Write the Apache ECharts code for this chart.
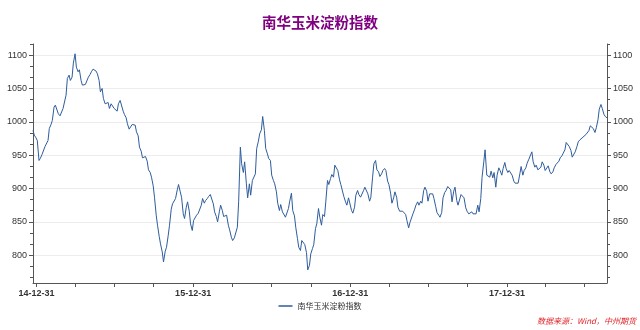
<!DOCTYPE html>
<html><head><meta charset="utf-8">
<script src="https://cdn.jsdelivr.net/npm/echarts@6/dist/echarts.min.js"></script>
<style>html,body{margin:0;padding:0;background:#fff}#c{width:640px;height:330px}</style>
</head><body><div id="c"></div>
<script>
const chartTitle = '南华玉米淀粉指数';
const seriesName = '南华玉米淀粉指数';
const sourceText = '数据来源：Wind，中州期货';

const dates = [
'2014-12-23','2014-12-26','2014-12-30',
'2015-01-02','2015-01-06','2015-01-09','2015-01-13','2015-01-16','2015-01-20','2015-01-23','2015-01-27','2015-01-30',
'2015-02-03','2015-02-06','2015-02-10','2015-02-13','2015-02-17','2015-02-20','2015-02-24','2015-02-27',
'2015-03-03','2015-03-06','2015-03-10','2015-03-13','2015-03-17','2015-03-20','2015-03-24','2015-03-27','2015-03-31',
'2015-04-03','2015-04-07','2015-04-10','2015-04-14','2015-04-17','2015-04-21','2015-04-24','2015-04-28',
'2015-05-01','2015-05-05','2015-05-08','2015-05-12','2015-05-15','2015-05-19','2015-05-22','2015-05-26','2015-05-29',
'2015-06-02','2015-06-05','2015-06-09','2015-06-12','2015-06-16','2015-06-19','2015-06-23','2015-06-26','2015-06-30',
'2015-07-03','2015-07-07','2015-07-10','2015-07-14','2015-07-17','2015-07-21','2015-07-24','2015-07-28','2015-07-31',
'2015-08-04','2015-08-07','2015-08-11','2015-08-14','2015-08-18','2015-08-21','2015-08-25','2015-08-28',
'2015-09-01','2015-09-04','2015-09-08','2015-09-11','2015-09-15','2015-09-18','2015-09-22','2015-09-25','2015-09-29',
'2015-10-02','2015-10-06','2015-10-09','2015-10-13','2015-10-16','2015-10-20','2015-10-23','2015-10-27','2015-10-30',
'2015-11-03','2015-11-06','2015-11-10','2015-11-13','2015-11-17','2015-11-20','2015-11-24','2015-11-27',
'2015-12-01','2015-12-04','2015-12-08','2015-12-11','2015-12-15','2015-12-18','2015-12-22','2015-12-25','2015-12-29',
'2016-01-01','2016-01-05','2016-01-08','2016-01-12','2016-01-15','2016-01-19','2016-01-22','2016-01-26','2016-01-29',
'2016-02-02','2016-02-05','2016-02-09','2016-02-12','2016-02-16','2016-02-19','2016-02-23','2016-02-26',
'2016-03-01','2016-03-04','2016-03-08','2016-03-11','2016-03-15','2016-03-18','2016-03-22','2016-03-25','2016-03-29',
'2016-04-01','2016-04-05','2016-04-08','2016-04-12','2016-04-15','2016-04-19','2016-04-22','2016-04-26','2016-04-29',
'2016-05-03','2016-05-06','2016-05-10','2016-05-13','2016-05-17','2016-05-20','2016-05-24','2016-05-27','2016-05-31',
'2016-06-03','2016-06-07','2016-06-10','2016-06-14','2016-06-17','2016-06-21','2016-06-24','2016-06-28',
'2016-07-01','2016-07-05','2016-07-08','2016-07-12','2016-07-15','2016-07-19','2016-07-22','2016-07-26','2016-07-29',
'2016-08-02','2016-08-05','2016-08-09','2016-08-12','2016-08-16','2016-08-19','2016-08-23','2016-08-26','2016-08-30',
'2016-09-02','2016-09-06','2016-09-09','2016-09-13','2016-09-16','2016-09-20','2016-09-23','2016-09-27','2016-09-30',
'2016-10-04','2016-10-07','2016-10-11','2016-10-14','2016-10-18','2016-10-21','2016-10-25','2016-10-28',
'2016-11-01','2016-11-04','2016-11-08','2016-11-11','2016-11-15','2016-11-18','2016-11-22','2016-11-25','2016-11-29',
'2016-12-02','2016-12-06','2016-12-09','2016-12-13','2016-12-16','2016-12-20','2016-12-23','2016-12-27','2016-12-30',
'2017-01-03','2017-01-06','2017-01-10','2017-01-13','2017-01-17','2017-01-20','2017-01-24','2017-01-27','2017-01-31',
'2017-02-03','2017-02-07','2017-02-10','2017-02-14','2017-02-17','2017-02-21','2017-02-24','2017-02-28',
'2017-03-03','2017-03-07','2017-03-10','2017-03-14','2017-03-17','2017-03-21','2017-03-24','2017-03-28','2017-03-31',
'2017-04-04','2017-04-07','2017-04-11','2017-04-14','2017-04-18','2017-04-21','2017-04-25','2017-04-28',
'2017-05-02','2017-05-05','2017-05-09','2017-05-12','2017-05-16','2017-05-19','2017-05-23','2017-05-26','2017-05-30',
'2017-06-02','2017-06-06','2017-06-09','2017-06-13','2017-06-16','2017-06-20','2017-06-23','2017-06-27','2017-06-30',
'2017-07-04','2017-07-07','2017-07-11','2017-07-14','2017-07-18','2017-07-21','2017-07-25','2017-07-28',
'2017-08-01','2017-08-04','2017-08-08','2017-08-11','2017-08-15','2017-08-18','2017-08-22','2017-08-25','2017-08-29',
'2017-09-01','2017-09-05','2017-09-08','2017-09-12','2017-09-15','2017-09-19','2017-09-22','2017-09-26','2017-09-29',
'2017-10-03','2017-10-06','2017-10-10','2017-10-13','2017-10-17','2017-10-20','2017-10-24','2017-10-27','2017-10-31',
'2017-11-03','2017-11-07','2017-11-10','2017-11-14','2017-11-17','2017-11-21','2017-11-24','2017-11-28',
'2017-12-01','2017-12-05','2017-12-08','2017-12-12','2017-12-15','2017-12-19','2017-12-22','2017-12-26','2017-12-29',
'2018-01-02','2018-01-05','2018-01-09','2018-01-12','2018-01-16','2018-01-19','2018-01-23','2018-01-26','2018-01-30',
'2018-02-02','2018-02-06','2018-02-09','2018-02-13','2018-02-16','2018-02-20','2018-02-23','2018-02-27',
'2018-03-02','2018-03-06','2018-03-09','2018-03-13','2018-03-16','2018-03-20','2018-03-23','2018-03-27','2018-03-30',
'2018-04-03','2018-04-06','2018-04-10','2018-04-13','2018-04-17','2018-04-20','2018-04-24','2018-04-27',
'2018-05-01','2018-05-04','2018-05-08','2018-05-11','2018-05-15','2018-05-18','2018-05-22','2018-05-25','2018-05-29',
'2018-06-01','2018-06-05','2018-06-08','2018-06-12','2018-06-15','2018-06-19','2018-06-22','2018-06-26','2018-06-29',
'2018-07-03','2018-07-06','2018-07-10','2018-07-13','2018-07-17','2018-07-20','2018-07-24','2018-07-27','2018-07-31',
'2018-08-03','2018-08-07','2018-08-10','2018-08-14','2018-08-17','2018-08-21'
];

const values = [
987,980,976,
972,942,945,951,952,963,965,972,990,
996,1002,1022,1025,1025,1012,1009,1010,
1020,1022,1040,1065,1070,1062,1067,1088,1102,
1082,1075,1078,1062,1055,1057,1056,1055,
1067,1071,1075,1079,1078,1076,1072,1062,1045,
1050,1035,1027,1028,1029,1020,1027,1026,1020,
1021,1016,1027,1032,1030,1016,1011,1006,997,
989,987,996,998,995,985,979,962,
956,946,947,948,941,928,924,917,904,
887,860,845,828,817,805,790,806,812,
830,845,869,877,875,885,898,906,
895,887,862,855,872,880,866,847,837,
852,851,860,863,865,875,885,878,882,
885,888,891,893,877,865,858,850,
865,875,867,858,860,860,845,838,827,
822,826,825,842,880,962,937,924,940,
907,886,907,890,912,912,922,960,971,
982,988,1008,987,960,952,945,942,
920,912,907,895,878,867,876,865,866,
857,857,870,881,893,867,859,842,825,
812,807,822,820,816,804,778,785,802,
810,816,840,847,870,857,845,861,
858,880,912,906,915,921,917,935,937,
927,913,906,907,888,880,875,886,885,
867,863,872,890,897,891,887,885,897,
902,901,892,881,887,917,937,942,
928,925,918,922,927,930,927,911,906,
893,878,886,895,887,872,866,867,
866,868,861,852,841,849,850,862,869,
875,880,875,881,878,897,902,896,881,
892,893,892,885,873,864,860,857,
864,886,894,897,903,902,898,880,896,
902,882,875,873,891,891,886,871,866,
862,862,865,862,864,862,875,865,885,
917,940,958,920,920,917,926,916,
924,902,920,931,927,920,930,939,930,
924,927,927,920,911,908,910,908,922,
933,920,927,931,938,944,945,955,
940,932,935,928,926,932,940,935,927,
929,934,925,922,925,931,936,937,
941,946,949,953,958,969,968,963,957,
947,947,955,963,970,973,975,977,977,
981,982,987,994,995,990,984,991,1003,
1019,1026,1020,1011,1008,1006
];

const xMin = '2014-12-23';
const xMax = '2018-08-21';
const xTickDates = ['2014-12-31','2015-03-31','2015-06-30','2015-09-30','2015-12-31','2016-03-31','2016-06-30','2016-09-30','2016-12-31','2017-03-31','2017-06-30','2017-09-30','2017-12-31','2018-03-31','2018-06-30'];
const xLabelDates = ['2014-12-31','2015-12-31','2016-12-31','2017-12-31'];
const yMin = 758.33, yMax = 1116.67;
const yLabelValues = [800,850,900,950,1000,1050,1100];
const yMinorTicks = [766.67,783.33,816.67,833.33,866.67,883.33,916.67,933.33,966.67,983.33,1016.67,1033.33,1066.67,1083.33,1116.67];

function ts(s){const p=s.split('-').map(Number);return Date.UTC(p[0],p[1]-1,p[2]);}
function fmt(v){const d=new Date(v);const y=String(d.getUTCFullYear()).slice(2);const m=String(d.getUTCMonth()+1).padStart(2,'0');const dd=String(d.getUTCDate()).padStart(2,'0');return y+'-'+m+'-'+dd;}

const axisColor = '#555';
const labelStyle = {fontSize:9, color:'#333', fontFamily:'Liberation Sans, Arial, sans-serif'};

function yAxisMajor(pos, split){
  return {type:'value', position:pos, min:yMin, max:yMax,
    axisLine:{show:true, lineStyle:{color:axisColor, width:1}},
    axisTick:{show:true, customValues:yLabelValues, length:4, lineStyle:{color:axisColor}},
    axisLabel:Object.assign({show:true, customValues:yLabelValues, margin:6, formatter:v=>String(Math.round(v))}, labelStyle),
    splitLine:{show:split, lineStyle:{color:'#ececec', width:1}}};
}
function yAxisMinor(pos){
  return {type:'value', position:pos, min:yMin, max:yMax,
    axisLine:{show:false},
    axisTick:{show:true, customValues:yMinorTicks, length:3, lineStyle:{color:axisColor}},
    axisLabel:{show:false}, splitLine:{show:false}};
}

const chart = echarts.init(document.getElementById('c'), null, {renderer:'canvas'});
chart.setOption({
  backgroundColor:'#fff',
  animation:false,
  title:{text:chartTitle, left:'center', top:10,
    textStyle:{fontSize:14.5, fontWeight:'bold', color:'#800080', fontFamily:'Noto Sans CJK SC'}},
  legend:{bottom:15, left:'center', icon:'rect', itemWidth:14, itemHeight:1.5, itemGap:4,
    textStyle:{fontSize:8, color:'#333', fontFamily:'Noto Sans CJK SC'},
    data:[seriesName]},
  graphic:[{type:'text', right:4, top:317,
    style:{text:sourceText, fill:'#e0242a', font:'italic 8px "Noto Sans CJK SC"'}}],
  grid:{left:33, right:33, top:44, bottom:47, containLabel:false, outerBoundsMode:'none'},
  xAxis:{type:'value', min:ts(xMin), max:ts(xMax),
    axisLine:{show:true, onZero:false, lineStyle:{color:axisColor, width:1}},
    axisTick:{show:true, customValues:xTickDates.map(ts), length:4, lineStyle:{color:axisColor}},
    axisLabel:Object.assign({show:true, customValues:xLabelDates.map(ts), margin:6, formatter:fmt, fontWeight:'bold'}, labelStyle),
    splitLine:{show:false}},
  yAxis:[yAxisMajor('left', true), yAxisMinor('left'), yAxisMajor('right', false), yAxisMinor('right')],
  series:[{name:seriesName, type:'line', yAxisIndex:0, showSymbol:false, symbol:'none',
    lineStyle:{color:'#2e5d9c', width:1}, itemStyle:{color:'#2e5d9c'},
    data:dates.map((d,i)=>[ts(d), values[i]])}]
});
</script></body></html>
